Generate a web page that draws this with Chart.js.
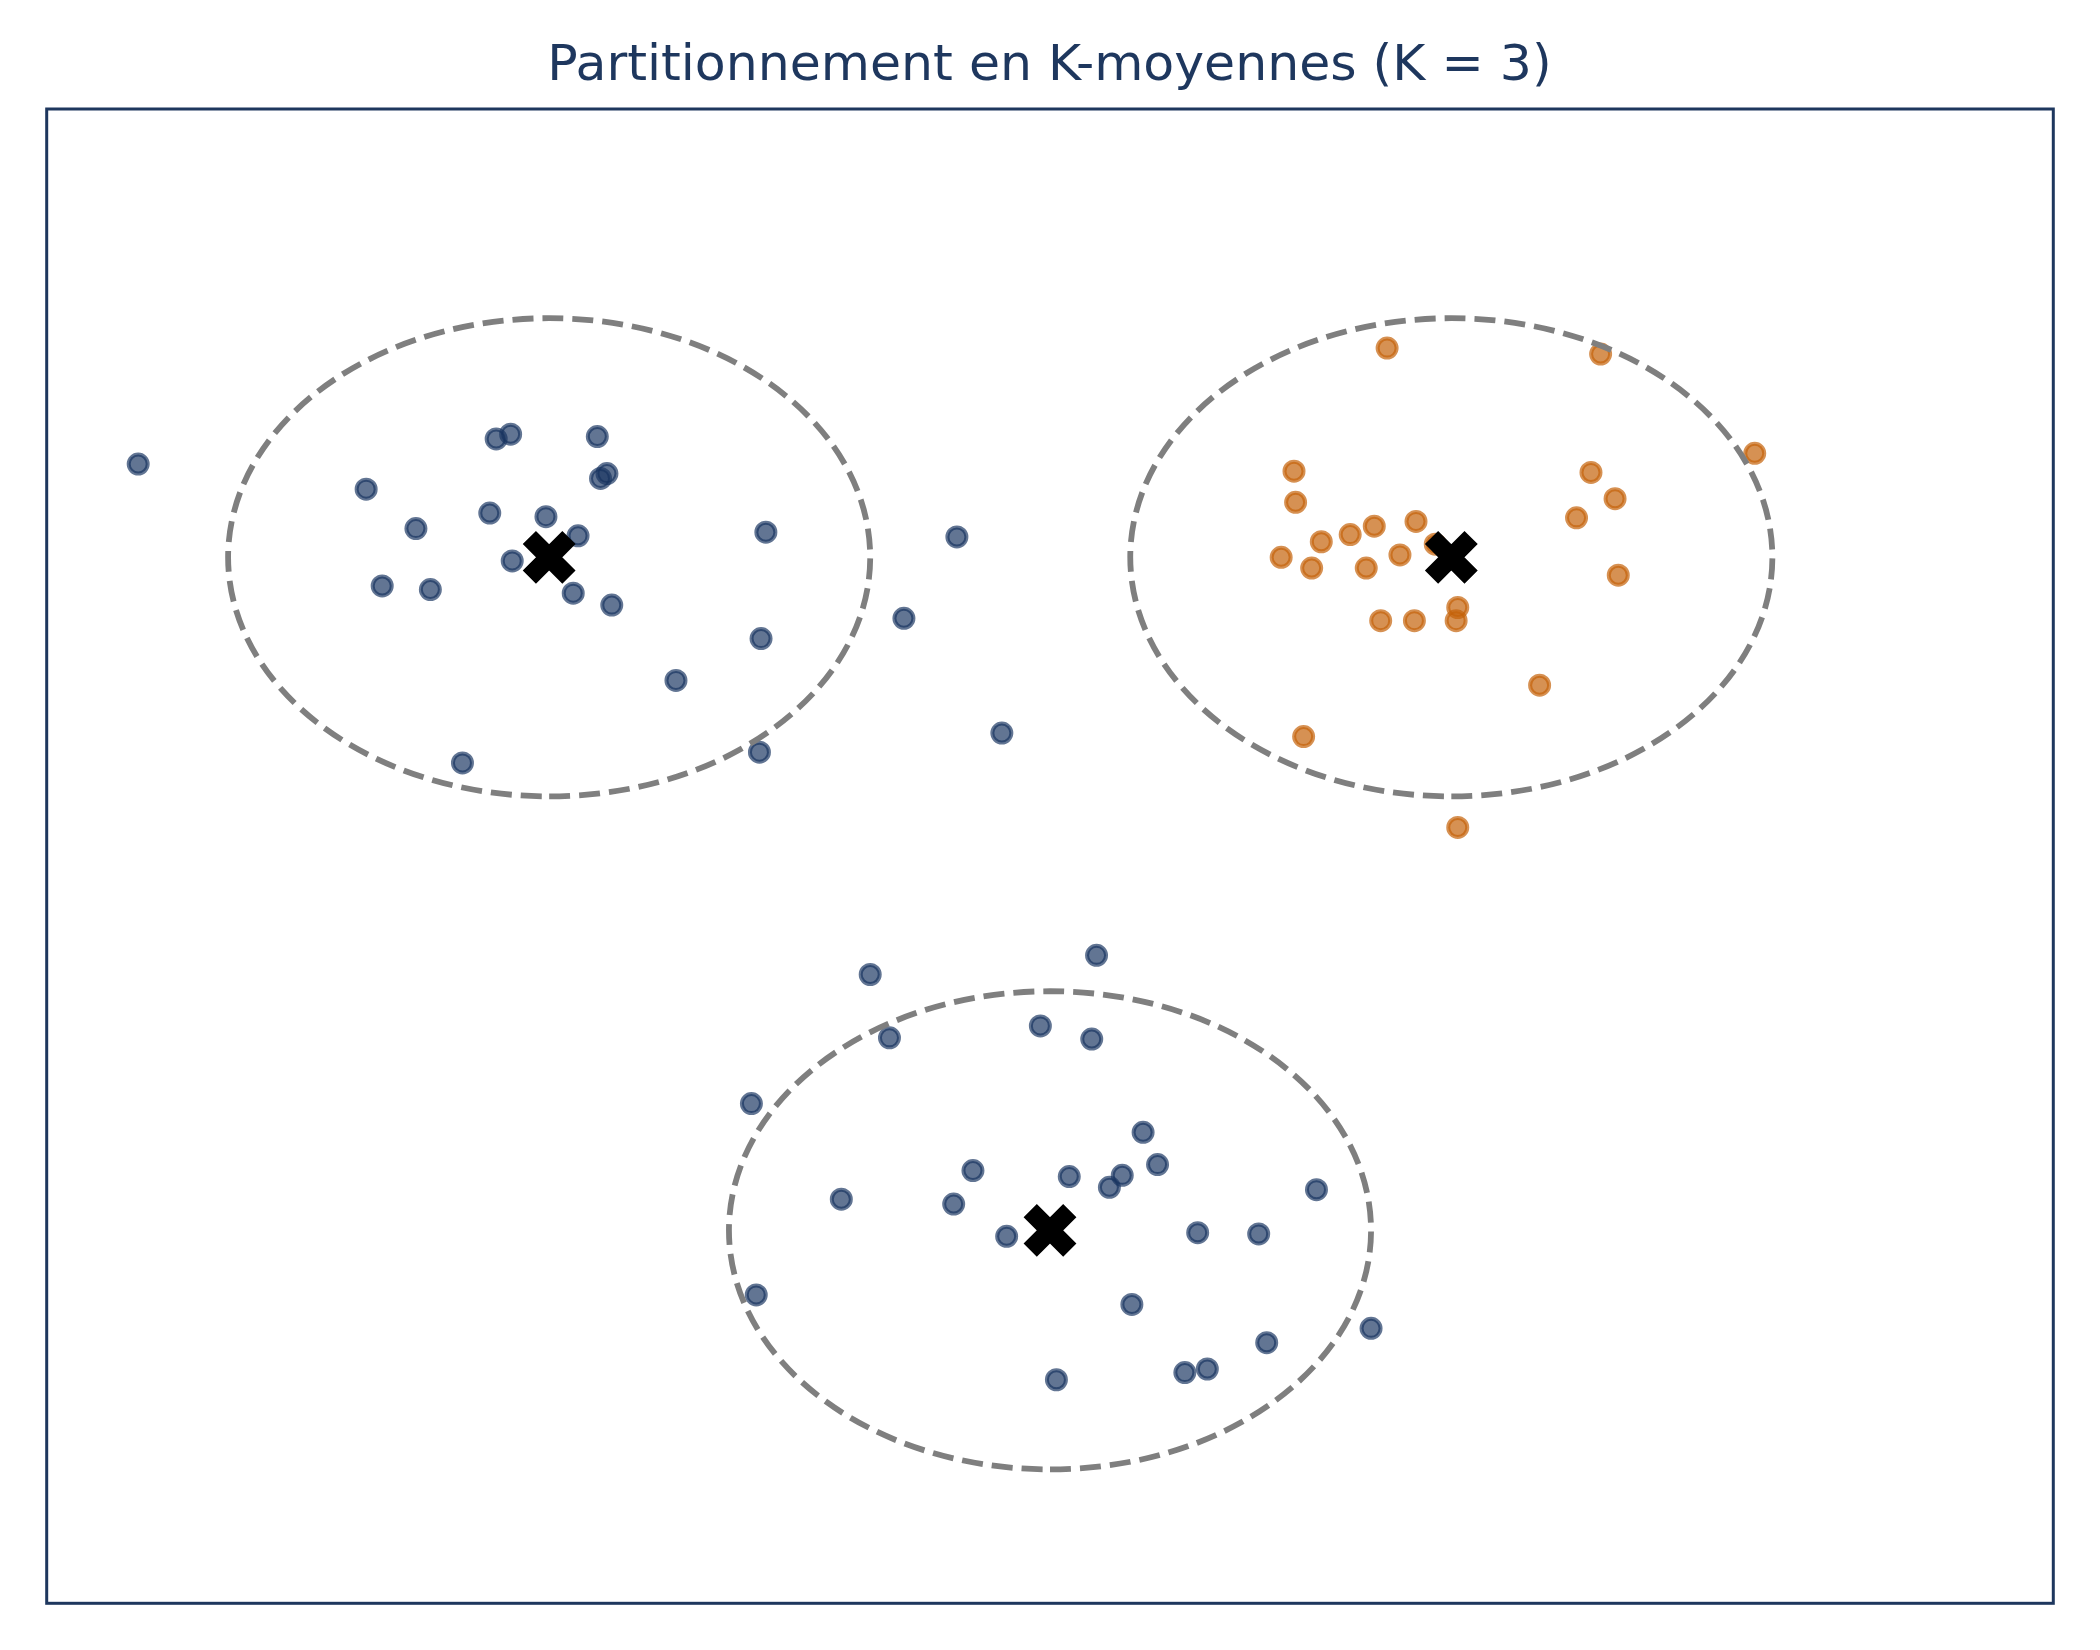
<!DOCTYPE html>
<html>
<head>
<meta charset="utf-8">
<script src="https://cdn.jsdelivr.net/npm/chart.js@4.4.0/dist/chart.umd.min.js"></script>
<style>
  html, body { margin: 0; padding: 0; background: #ffffff; }
  #wrap { width: 2100px; height: 1650px; }
</style>
</head>
<body>
<div id="wrap"><canvas id="c" width="2100" height="1650"></canvas></div>
<script>
// ---------- data ----------
const chartTitle = 'Partitionnement en K-moyennes (K = 3)';

// cluster 1 (upper left, blue)
const cluster1X = [-5.68, -3.45, -3.36, -2.82, -2.76, -2.80, -4.26, -3.49, -3.14, -3.95, -2.94, -1.77,
                   -3.35, -4.16, -3.86, -2.97, -2.73, -1.80, -2.33, -3.66, -1.81, -0.58, -0.91, -0.30];
const cluster1Y = [ 3.28,  3.49,  3.53,  3.51,  3.20,  3.16,  3.07,  2.87,  2.84,  2.74,  2.68,  2.71,
                    2.47,  2.26,  2.23,  2.20,  2.10,  1.82,  1.47,  0.78,  0.87,  2.67,  1.99,  1.03];

// cluster 2 (upper right, orange)
const cluster2X = [2.10, 3.43, 4.39, 1.52, 3.37, 1.53, 3.52, 3.28, 2.02, 2.28, 1.87, 1.69, 1.44,
                   1.63, 1.97, 2.18, 2.40, 3.54, 2.54, 2.06, 2.27, 2.53, 3.05, 1.58, 2.54];
const cluster2Y = [4.25, 4.20, 3.37, 3.22, 3.21, 2.96, 2.99, 2.83, 2.76, 2.80, 2.69, 2.63, 2.50,
                   2.41, 2.41, 2.52, 2.61, 2.35, 2.08, 1.97, 1.97, 1.97, 1.43, 1.00, 0.24];

// cluster 3 (bottom, blue)
const cluster3X = [-1.12, 0.29, -1.00, -0.06, 0.26, -1.86, 0.58, -0.48, 0.12, 0.45, 0.37, 0.67, -1.30,
                   -0.60, -0.27, 0.92, -1.83, 0.51, 1.66, 1.30, 2.00, 1.35, 0.98, 0.84, 0.04];
const cluster3Y = [-0.99, -0.83, -1.52, -1.42, -1.53, -2.07, -2.31, -2.63, -2.68, -2.67, -2.77, -2.58, -2.87,
                   -2.91, -3.18, -3.15, -3.67, -3.75, -2.79, -3.16, -3.95, -4.07, -4.29, -4.32, -4.38];

// centroids and the radius of the circle drawn around each one
const centroidX = [-3.12, 2.50, 0.00];
const centroidY = [ 2.50, 2.50, -3.13];
const clusterRadius = [2.0, 2.0, 2.0];

// ---------- styles ----------
const NAVY = '#1e375e';
const BLUE_FILL = 'rgba(24, 52, 96, 0.68)';
const ORANGE_FILL = 'rgba(196, 98, 10, 0.7)';

function pts(xs, ys) { return xs.map((x, i) => ({ x: x, y: ys[i] })); }

const ellipsePlugin = {
  id: 'clusterCircles',
  afterDatasetsDraw(chart) {
    const { ctx, scales: { x, y } } = chart;
    ctx.save();
    ctx.strokeStyle = '#7f7f7f';
    ctx.lineWidth = 5.8;
    ctx.setLineDash([21, 9]);
    ctx.lineDashOffset = 0;
    for (let i = 0; i < centroidX.length; i++) {
      const cx = x.getPixelForValue(centroidX[i]);
      const cy = y.getPixelForValue(centroidY[i]);
      const rx = Math.abs(x.getPixelForValue(centroidX[i] + clusterRadius[i]) - cx);
      const ry = Math.abs(y.getPixelForValue(centroidY[i] + clusterRadius[i]) - cy);
      ctx.beginPath();
      ctx.ellipse(cx, cy, rx, ry, 0, Math.PI / 2, Math.PI / 2 - 2 * Math.PI, true);
      ctx.stroke();
    }
    ctx.restore();
  }
};

const framePlugin = {
  id: 'frame',
  afterDraw(chart) {
    const { ctx, chartArea: a } = chart;
    ctx.save();
    ctx.strokeStyle = NAVY;
    ctx.lineWidth = 3;
    ctx.setLineDash([]);
    ctx.strokeRect(a.left, a.top, a.right - a.left, a.bottom - a.top);
    ctx.restore();
  }
};

new Chart(document.getElementById('c'), {
  type: 'scatter',
  data: {
    datasets: [
      {
        label: 'Centroïdes',
        data: pts(centroidX, centroidY),
        pointStyle: 'crossRot',
        pointRadius: 28,
        borderWidth: 18.7,
        borderColor: '#000000',
        backgroundColor: '#000000',
        order: 0
      },
      {
        label: 'Groupe 1',
        data: pts(cluster1X, cluster1Y),
        pointRadius: 9.5,
        borderWidth: 4,
        backgroundColor: BLUE_FILL,
        borderColor: BLUE_FILL,
        order: 1
      },
      {
        label: 'Groupe 2',
        data: pts(cluster2X, cluster2Y),
        pointRadius: 9.5,
        borderWidth: 4,
        backgroundColor: ORANGE_FILL,
        borderColor: ORANGE_FILL,
        order: 2
      },
      {
        label: 'Groupe 3',
        data: pts(cluster3X, cluster3Y),
        pointRadius: 9.5,
        borderWidth: 4,
        backgroundColor: BLUE_FILL,
        borderColor: BLUE_FILL,
        order: 3
      }
    ]
  },
  options: {
    responsive: false,
    devicePixelRatio: 1,
    animation: false,
    events: [],
    layout: { padding: { left: 44, right: 45, top: 0, bottom: 45 } },
    scales: {
      x: { type: 'linear', min: -6.25, max: 6.25, display: false },
      y: { type: 'linear', min: -6.25, max: 6.25, display: false }
    },
    plugins: {
      legend: { display: false },
      tooltip: { enabled: false },
      title: {
        display: true,
        text: chartTitle,
        color: NAVY,
        font: { family: 'DejaVu Sans', size: 50.5, weight: 'normal', lineHeight: 1.2 },
        padding: { top: 37, bottom: 11.4 }
      }
    }
  },
  plugins: [ellipsePlugin, framePlugin]
});
</script>
</body>
</html>
